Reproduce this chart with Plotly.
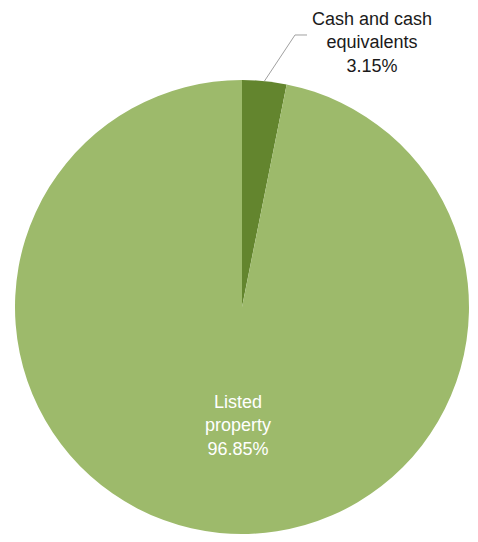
import math
import plotly.graph_objects as go

labels = ["Cash and cash<br>equivalents", "Listed<br>property"]
values = [3.15, 96.85]
colors = ["#63852e", "#9dba6b"]

W, H = 462, 526
OFF = 8  # page body margin offset
cx, cy, r = 242 - OFF, 307 - OFF, 227  # pie placement in paper pixels (from top-left)

dom_x = [(cx - r) / W, (cx + r) / W]
dom_y = [max(0, (H - cy - r) / H), (H - cy + r) / H]

fig = go.Figure(go.Pie(
    labels=labels,
    values=values,
    sort=False,
    direction="clockwise",
    rotation=0,
    marker=dict(colors=colors, line=dict(width=0)),
    textinfo="none",
    domain=dict(x=dom_x, y=dom_y),
    showlegend=False,
    hoverinfo="label+percent",
))

FONT = "Arial, Liberation Sans, sans-serif"

# leader line for small slice, starting at mid-angle of the slice on the rim
total = sum(values)
mid = (values[0] / 2) / total * 2 * math.pi
sx = cx + r * math.sin(mid)
sy = cy - r * math.cos(mid)
pts = [(sx, sy), (295 - OFF, 35 - OFF), (307 - OFF, 35 - OFF)]
path = "M " + " L ".join(f"{x / W:.5f},{1 - y / H:.5f}" for x, y in pts)
fig.add_shape(type="path", path=path, xref="paper", yref="paper",
              line=dict(color="#a0a0a0", width=1))

pct = [v / total * 100 for v in values]

fig.add_annotation(
    x=(372 - OFF) / W, y=1 - (43 - OFF) / H, xref="paper", yref="paper",
    xanchor="center", yanchor="middle",
    text=f"{labels[0]}<br>{pct[0]:.2f}%",
    showarrow=False, align="center",
    font=dict(color="#1a1a1a", size=18, family=FONT),
)

fig.add_annotation(
    x=(238 - OFF) / W, y=1 - (425 - OFF) / H, xref="paper", yref="paper",
    xanchor="center", yanchor="middle",
    text=f"{labels[1]}<br>{pct[1]:.2f}%",
    showarrow=False, align="center",
    font=dict(color="white", size=18, family=FONT),
)

fig.update_layout(
    width=W, height=H,
    margin=dict(l=0, r=0, t=0, b=0),
    paper_bgcolor="white", plot_bgcolor="white",
)

fig.write_html("out.html")
